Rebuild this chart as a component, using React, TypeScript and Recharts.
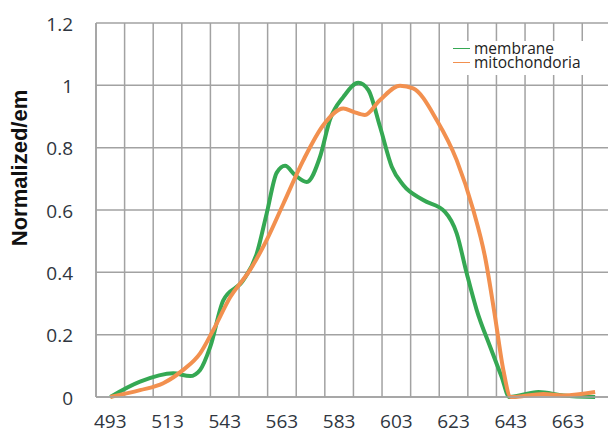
import React from 'react';
import { LineChart, Line, XAxis, YAxis, CartesianGrid, Legend } from 'recharts';

// x positions are category slots (0 = "493", 1 = next slot, ...)
const tickLabels = ['493', '513', '543', '563', '583', '603', '623', '643', '663'];
const tickSlots = [0, 2, 4, 6, 8, 10, 12, 14, 16];
const yTicks = [0, 0.2, 0.4, 0.6, 0.8, 1, 1.2];

const membranePos = [0, 1.04, 2.2, 2.79, 3.14, 3.49, 3.95, 4.65, 5.12, 5.47, 5.82, 6.11, 6.46, 6.87, 7.33, 7.68, 8.15, 8.67, 9.02, 9.43, 9.84, 10.24, 10.94, 11.7, 12.11, 12.46, 12.81, 13.28, 13.68, 13.95, 14.97, 15.84, 16.95];
const membraneVals = [0, 0.049, 0.076, 0.067, 0.087, 0.16, 0.31, 0.375, 0.46, 0.59, 0.72, 0.742, 0.712, 0.69, 0.77, 0.89, 0.963, 1.008, 0.985, 0.867, 0.739, 0.68, 0.632, 0.594, 0.525, 0.397, 0.279, 0.161, 0.065, 0, 0.016, 0.005, 0];

const mitoPos = [0, 1.04, 1.85, 2.55, 3.14, 3.6, 4.19, 4.88, 5.47, 6.05, 6.75, 7.45, 8.15, 8.5, 8.9, 9.43, 10.13, 10.59, 11.41, 12.11, 12.69, 13.1, 13.45, 13.74, 14.0, 15.14, 15.84, 16.95];
const mitoVals = [0, 0.022, 0.044, 0.087, 0.14, 0.215, 0.32, 0.407, 0.504, 0.62, 0.76, 0.873, 0.926, 0.915, 0.905, 0.953, 0.999, 0.99, 0.889, 0.76, 0.6, 0.45, 0.258, 0.087, 0, 0.01, 0.005, 0.016];

const slotBoundaries = Array.from({ length: 18 }, (_, i) => i - 0.5);

const membraneData = membranePos.map((x, i) => ({ x, y: membraneVals[i] }));
const mitoData = mitoPos.map((x, i) => ({ x, y: mitoVals[i] }));

const X_DOMAIN: [number, number] = [-0.5, 17.4];
const GREEN = '#35a853';
const ORANGE = '#f2904f';
const GRID = '#a2a2a2';

const LegendBox = (props: any) => {
  const payload = props.payload || [];
  return (
    <div style={{ position: 'relative', width: 137, height: 34, background: '#fff' }}>
      {payload.map((p: any, i: number) => (
        <div key={i} style={{ position: 'absolute', left: 0, top: i * 14, height: 14, width: 137 }}>
          <div style={{ position: 'absolute', left: 5, top: 7, width: 17, height: 0, borderTop: `1.5px solid ${p.color}` }} />
          <div style={{ position: 'absolute', left: 26, top: 0.8, height: 13, lineHeight: '13px', fontSize: 15.5, fontFamily: '"Open Sans", sans-serif', color: '#222', whiteSpace: 'nowrap' }}>{p.value}</div>
        </div>
      ))}
    </div>
  );
};

const verticalGen = (args: any) => {
  const { xAxis, offset } = args;
  if (xAxis && typeof xAxis.scale === 'function') {
    return slotBoundaries.map((v) => xAxis.scale(v));
  }
  const w = offset.width;
  return slotBoundaries.map((v) => offset.left + ((v - X_DOMAIN[0]) / (X_DOMAIN[1] - X_DOMAIN[0])) * w);
};

export default function App() {
  return (
    <div style={{ position: 'absolute', left: 0, top: 0, width: 608, height: 434, background: '#fff' }}>
      <LineChart width={608} height={434} margin={{ top: 23, right: 0, bottom: 0, left: 0 }}>
        <CartesianGrid stroke={GRID} strokeWidth={1.5} verticalCoordinatesGenerator={verticalGen} />
        <XAxis
          dataKey="x"
          type="number"
          domain={X_DOMAIN}
          ticks={tickSlots}
          tickFormatter={(v: number) => tickLabels[Math.round(v / 2)]}
          height={37}
          tickSize={0}
          tickMargin={18}
          tickLine={false}
          axisLine={{ stroke: GRID, strokeWidth: 1.5 }}
          tick={{ fontSize: 19, fontFamily: '"Open Sans", sans-serif', fill: '#2f3640' }}
          allowDataOverflow
        />
        <YAxis
          type="number"
          domain={[0, 1.2]}
          ticks={yTicks}
          width={96}
          tickSize={0}
          tickMargin={23}
          tickLine={false}
          axisLine={{ stroke: GRID, strokeWidth: 1.5 }}
          tick={{ fontSize: 19, fontFamily: '"Open Sans", sans-serif', fill: '#2f3640', dy: 1 }}
          tickFormatter={(v: number) => String(v)}
          label={{
            value: 'Normalized/em',
            angle: -90,
            position: 'center',
            dx: -29,
            dy: -42,
            style: { fontSize: 22, fontWeight: 'bold', fontFamily: '"Liberation Sans", Arial, sans-serif', fill: '#111', textAnchor: 'middle' },
          }}
        />
        <Legend
          layout="vertical"
          align="center"
          verticalAlign="middle"
          wrapperStyle={{ left: 448, top: 41, width: 137, height: 34 }}
          content={<LegendBox />}
        />
        <Line data={membraneData} dataKey="y" name="membrane" type="monotone" stroke={GREEN} strokeWidth={4} dot={false} isAnimationActive={false} />
        <Line data={mitoData} dataKey="y" name="mitochondoria" type="monotone" stroke={ORANGE} strokeWidth={4} dot={false} isAnimationActive={false} />
      </LineChart>
    </div>
  );
}
